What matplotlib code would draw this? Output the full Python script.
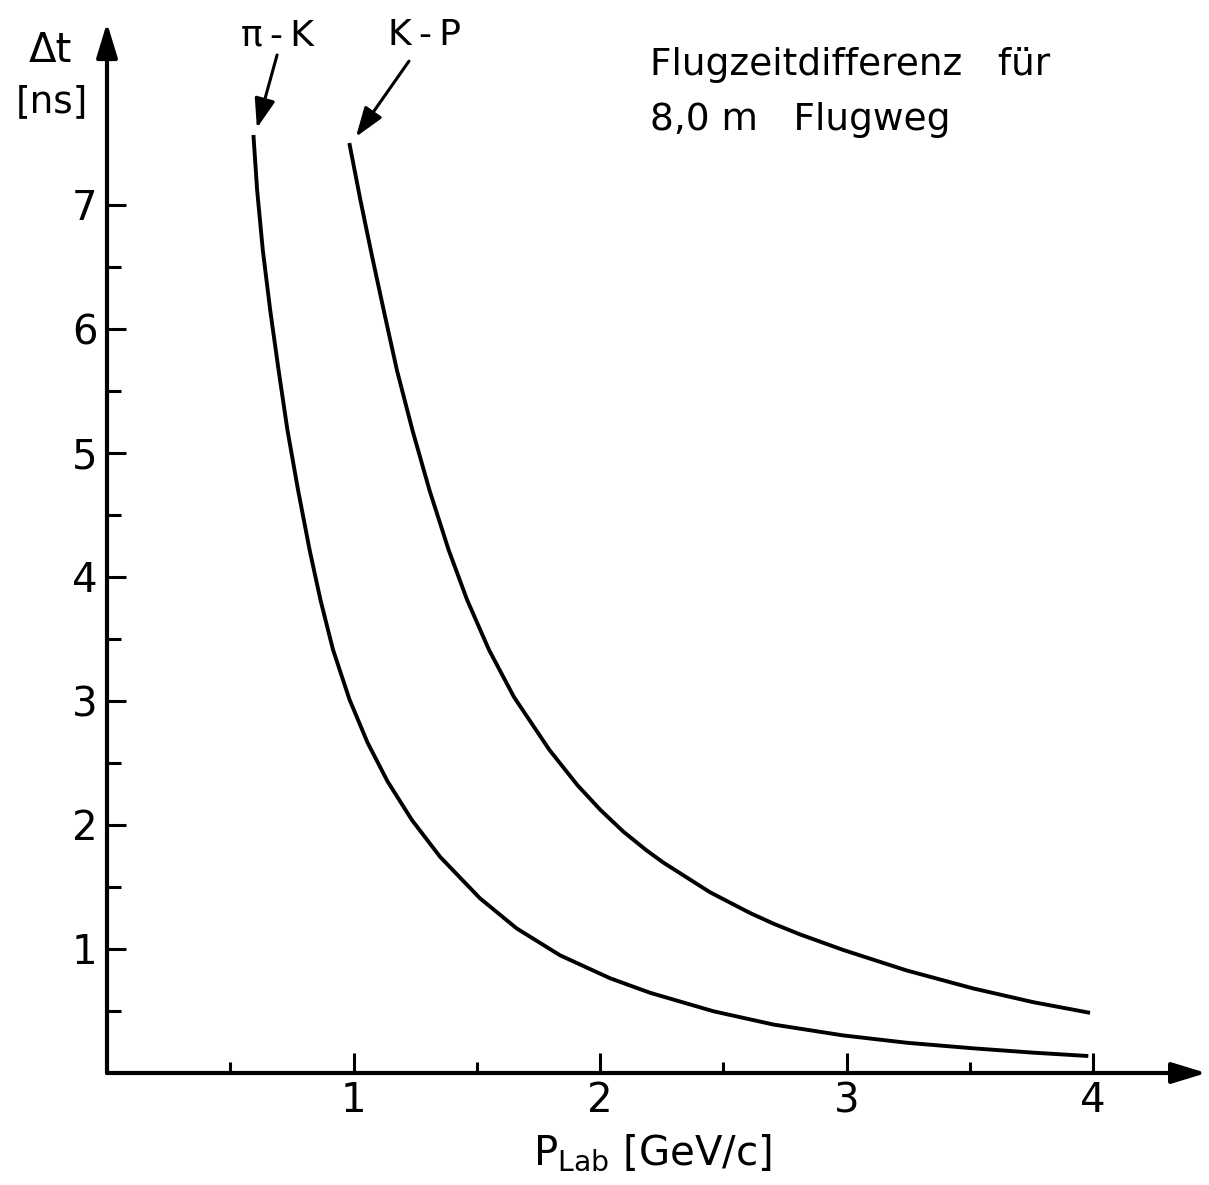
import matplotlib

matplotlib.use("Agg")

import matplotlib.pyplot as plt
from matplotlib.ticker import FixedLocator

# pi-K time-of-flight difference
pik_p = [0.594, 0.609, 0.632, 0.662, 0.696, 0.732, 0.775, 0.822, 0.866, 0.917,
         0.984, 1.057, 1.138, 1.237, 1.351, 1.513, 1.662, 1.838, 2.041, 2.203,
         2.460, 2.703, 2.987, 3.244, 3.514, 3.758, 3.981]
pik_dt = [7.565, 7.121, 6.637, 6.153, 5.669, 5.185, 4.702, 4.218, 3.815, 3.413,
          3.011, 2.664, 2.352, 2.040, 1.744, 1.409, 1.166, 0.949, 0.764, 0.647,
          0.498, 0.391, 0.303, 0.244, 0.199, 0.164, 0.137]

# K-P time-of-flight difference
kp_p = [0.983, 1.028, 1.075, 1.125, 1.176, 1.239, 1.308, 1.386, 1.461, 1.550,
        1.651, 1.795, 1.909, 2.002, 2.095, 2.189, 2.257, 2.446, 2.609, 2.703,
        2.811, 2.987, 3.244, 3.514, 3.758, 3.988]
kp_dt = [7.500, 7.040, 6.589, 6.129, 5.669, 5.185, 4.702, 4.218, 3.815, 3.411,
         3.032, 2.605, 2.320, 2.121, 1.946, 1.795, 1.697, 1.458, 1.290, 1.205,
         1.118, 0.992, 0.827, 0.682, 0.571, 0.485]

x_major = [1, 2, 3, 4]
x_minor = [0.5, 1.5, 2.5, 3.5]
y_major = [1, 2, 3, 4, 5, 6, 7]
y_minor = [0.5, 1.5, 2.5, 3.5, 4.5, 5.5, 6.5]

W, H = 1209, 1185
X0, Y0 = 107, 1073          # pixel position of the origin
PX_X, PX_Y = 246.5, 124.0   # pixels per data unit

plt.rcParams["font.family"] = ["DejaVu Sans"]

fig = plt.figure(figsize=(W / 100, H / 100), dpi=100)
ax = fig.add_axes([X0 / W, (H - Y0) / H, (W - X0) / W, Y0 / H])
ax.set_xlim(0, (W - X0) / PX_X)
ax.set_ylim(0, Y0 / PX_Y)
for s in ax.spines.values():
    s.set_visible(False)

# curves
ax.plot(pik_p, pik_dt, color="black", lw=2.8, solid_capstyle="butt",
        solid_joinstyle="round")
ax.plot(kp_p, kp_dt, color="black", lw=2.8, solid_capstyle="butt",
        solid_joinstyle="round")

# axes with arrow heads
arrow = dict(arrowstyle="-|>,head_length=1.05,head_width=0.32", mutation_scale=20,
             color="black", lw=3, shrinkA=0, shrinkB=0)
ax.annotate("", xy=(4.46, 0), xytext=(0, 0), arrowprops=arrow, annotation_clip=False)
ax.annotate("", xy=(0, 8.47), xytext=(0, 0), arrowprops=arrow, annotation_clip=False)

# ticks
ax.xaxis.set_major_locator(FixedLocator(x_major))
ax.xaxis.set_minor_locator(FixedLocator(x_minor))
ax.yaxis.set_major_locator(FixedLocator(y_major))
ax.yaxis.set_minor_locator(FixedLocator(y_minor))
ax.set_xticklabels([str(v) for v in x_major])
ax.set_yticklabels([str(v) for v in y_major])
ax.tick_params(which="both", direction="in", width=2.2, color="black",
               top=False, right=False, labelsize=29)
ax.tick_params(axis="x", which="major", length=14.5, pad=6)
ax.tick_params(axis="x", which="minor", length=8)
ax.tick_params(axis="y", which="major", length=14, pad=7)
ax.tick_params(axis="y", which="minor", length=10)

# axis labels
ax.text(2.21, -0.74, r"P$_{\mathrm{Lab}}$ [GeV/c]", fontsize=29, ha="center",
        va="baseline", clip_on=False)
ax.text(-0.23, 8.15, "Δt", fontsize=29, ha="center", va="baseline", clip_on=False)
ax.text(-0.225, 7.75, "[ns]", fontsize=27, ha="center", va="baseline", clip_on=False)

# curve labels with pointers
ax.text(0.69, 8.29, "π\u2009-\u2009K", fontsize=26, ha="center", va="baseline")
ax.text(1.29, 8.29, "K\u2009-\u2009P", fontsize=26, ha="center", va="baseline")
pointer = dict(arrowstyle="-|>,head_length=1.0,head_width=0.35", mutation_scale=18,
               color="black", lw=2.2, shrinkA=0, shrinkB=0)
ax.annotate("", xy=(0.608, 7.62), xytext=(0.69, 8.21), arrowprops=pointer)
ax.annotate("", xy=(1.01, 7.55), xytext=(1.225, 8.16), arrowprops=pointer)

# title block
ax.text(2.203, (Y0 - 75) / PX_Y, "Flugzeitdifferenz   für", fontsize=27,
        ha="left", va="baseline")
ax.text(2.203, (Y0 - 130) / PX_Y, "8,0 m   Flugweg", fontsize=27,
        ha="left", va="baseline")

fig.savefig("out.png", dpi=100)
plt.close(fig)
